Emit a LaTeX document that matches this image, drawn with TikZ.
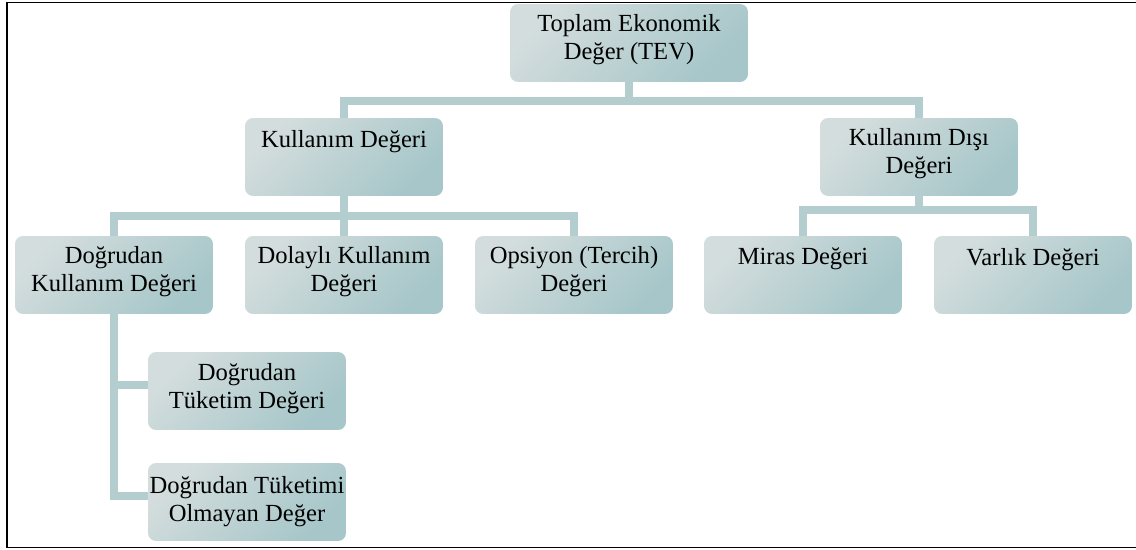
\documentclass[tikz,border=0pt]{standalone}
\usepackage{fontspec}
\setmainfont{Liberation Serif}
\usetikzlibrary{positioning}
\definecolor{kutuacik}{RGB}{212,221,221}
\definecolor{kutukoyu}{RGB}{166,198,201}
\definecolor{cizgi}{RGB}{180,206,208}
\tikzset{kutu/.style={rectangle, rounded corners=0.16cm, minimum width=3.96cm, minimum height=1.56cm, inner sep=0pt, top color=kutuacik, bottom color=kutukoyu, shading angle=45}, yazi/.style={anchor=north, align=center, inner sep=0pt, font=\fontsize{14}{16}\selectfont}, bag/.style={draw=cizgi, line width=0.16cm}}

\begin{document}
\begin{tikzpicture}[x=0.02cm, y=-0.02cm]

		\useasboundingbox (0,0) rectangle (1136,550);
		\draw[line width=0.9pt] (1136,2.5) -- (7,2.5) -- (7,547.5) -- (1136,547.5);

		% kutular
		\node[kutu, minimum width=4.76cm] (tev) at (629,43) {};
		\node[kutu] (kd) at (344,157) {};
		\node[kutu] (kdd) at (919,157) {};
		\node[kutu] (dk) at (114,275) {};
		\node[kutu] (dol) at (344,275) {};
		\node[kutu] (ops) at (574,275) {};
		\node[kutu] (mir) at (803,275) {};
		\node[kutu] (var) at (1033,275) {};
		\node[kutu] (dtd) at (247,391) {};
		\node[kutu] (dto) at (247,502) {};

		% yazilar
		\node[yazi] (tevy) at ([yshift=-0.2cm]tev.north) {Toplam Ekonomik\\Değer (TEV)};
		\node[yazi] (kdy) at ([yshift=-0.24cm]kd.north) {Kullanım Değeri};
		\node[yazi] (kddy) at ([yshift=-0.2cm]kdd.north) {Kullanım Dışı\\Değeri};
		\node[yazi] (dky) at ([yshift=-0.2cm]dk.north) {Doğrudan\\Kullanım Değeri};
		\node[yazi] (doly) at ([yshift=-0.2cm]dol.north) {Dolaylı Kullanım\\Değeri};
		\node[yazi] (opsy) at ([yshift=-0.2cm]ops.north) {Opsiyon (Tercih)\\Değeri};
		\node[yazi] (miry) at ([yshift=-0.24cm]mir.north) {Miras Değeri};
		\node[yazi] (vary) at ([yshift=-0.24cm]var.north) {Varlık Değeri};
		\node[yazi] (dtdy) at ([yshift=-0.22cm]dtd.north) {Doğrudan\\Tüketim Değeri};
		\node[yazi] (dtoy) at ([yshift=-0.26cm]dto.north) {Doğrudan Tüketimi\\Olmayan Değer};

		% baglar
		\coordinate (j0) at (629,101);
		\coordinate (j1) at (344,216);
		\coordinate (j2) at (919,210);
		\draw[bag] (tev.south) -- (j0);
		\draw[bag] (j0) -| (kd.north);
		\draw[bag] (j0) -| (kdd.north);
		\draw[bag] (kd.south) -- (j1);
		\draw[bag] (j1) -| (dk.north);
		\draw[bag] (j1) -- (dol.north);
		\draw[bag] (j1) -| (ops.north);
		\draw[bag] (kdd.south) -- (j2);
		\draw[bag] (j2) -| (mir.north);
		\draw[bag] (j2) -| (var.north);
		\draw[bag] (dk.south) |- ([yshift=0.12cm]dtd.west);
		\draw[bag] (dk.south) |- ([yshift=0.12cm]dto.west);

\end{tikzpicture}
\end{document}
